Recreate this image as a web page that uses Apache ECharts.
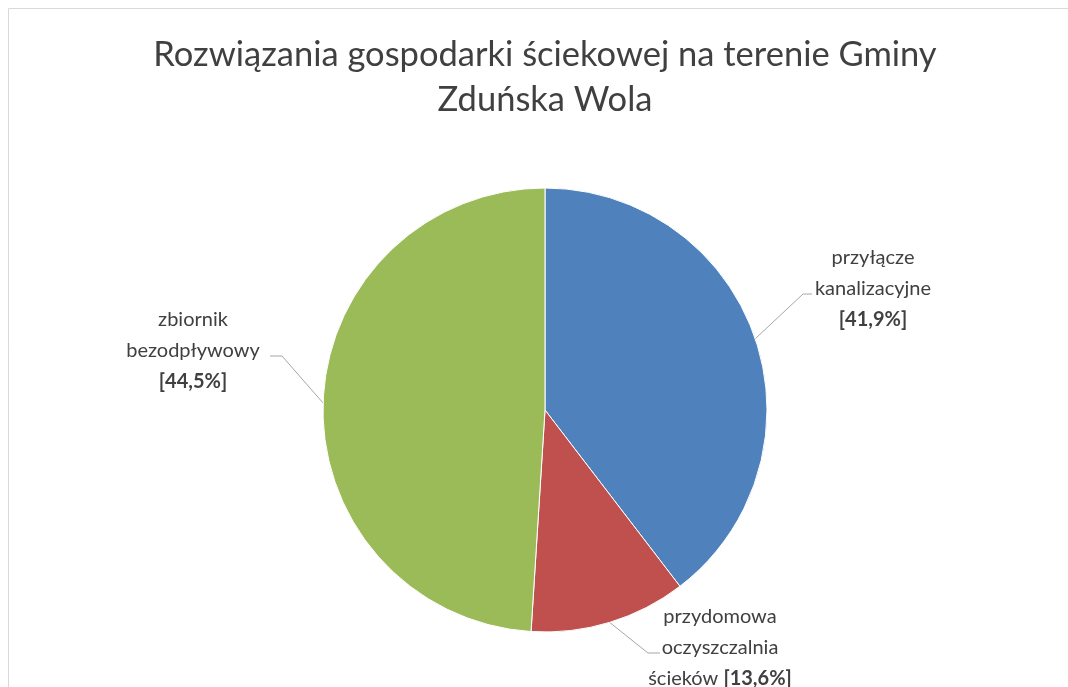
<!DOCTYPE html>
<html>
<head>
<meta charset="utf-8">
<script src="https://cdn.jsdelivr.net/npm/echarts@6/dist/echarts.min.js"></script>
<style>
  html, body { margin: 0; padding: 0; background: #fff; }
  #pie_solutions { width: 1068px; height: 687px; }
</style>
</head>
<body>
<div id="pie_solutions"></div>
<script>
// Data
var categories = ['przyłącze\nkanalizacyjne', 'przydomowa\noczyszczalnia\nścieków', 'zbiornik\nbezodpływowy'];
var sliceValues = [39.6, 11.4, 49.0];
var shownPercents = ['41,9%', '13,6%', '44,5%'];
var sliceColors = ['#4f81bd', '#c0504d', '#9bbb59'];

// Label spots: [center x, center y, leader end x, bend offset]
var labelSpots = [
    [873, 289, 812, -9],
    [720, 648, 660, -12],
    [193, 351, 270, 12]
];

var chartFont = 'Lato, "Open Sans", sans-serif';

var pie_solutions = echarts.init(document.getElementById('pie_solutions'));

pie_solutions.setOption({
    animation: false,
    color: sliceColors,

    // Title
    title: {
        text: 'Rozwiązania gospodarki ściekowej na terenie Gminy\nZduńska Wola',
        left: 545,
        top: 32,
        padding: 0,
        textAlign: 'center',
        textStyle: {
            fontFamily: chartFont,
            fontSize: 34.5,
            fontWeight: 'normal',
            lineHeight: 45,
            color: '#404040'
        }
    },

    // Chart frame
    graphic: [{
        type: 'rect',
        shape: { x: 8.5, y: 8.5, width: 1200, height: 1000 },
        style: { fill: 'none', stroke: '#d9d9d9', lineWidth: 1 },
        silent: true
    }],

    series: [{
        type: 'pie',
        radius: 222,
        center: [545, 410],
        startAngle: 90,
        clockwise: true,
        itemStyle: {
            borderColor: '#fff',
            borderWidth: 1
        },
        label: {
            show: true,
            position: 'outside',
            fontFamily: chartFont,
            fontSize: 20,
            lineHeight: 31,
            color: '#404040',
            align: 'center',
            formatter: function (p) {
                var lines = p.name.split('\n');
                var pct = '{b|[' + shownPercents[p.dataIndex] + ']}';
                if (p.dataIndex === 1) {
                    lines[lines.length - 1] += ' ' + pct;
                } else {
                    lines.push(pct);
                }
                return lines.join('\n');
            },
            rich: {
                b: {
                    fontFamily: chartFont,
                    fontSize: 20,
                    fontWeight: 'bold',
                    lineHeight: 31,
                    color: '#404040'
                }
            }
        },
        labelLine: {
            show: true,
            length: 20,
            length2: 10,
            lineStyle: { color: '#a6a6a6', width: 1 }
        },
        labelLayout: function (params) {
            var s = labelSpots[params.dataIndex];
            var start = params.labelLinePoints ? params.labelLinePoints[0] : null;
            var ly = s[1] + 5;
            var out = {
                x: s[0],
                y: s[1],
                align: 'center',
                verticalAlign: 'middle'
            };
            if (start) {
                out.labelLinePoints = [start, [s[2] + s[3], ly], [s[2], ly]];
            }
            return out;
        },
        data: (function () {
            var items = [];
            for (var i = 0; i < categories.length; i++) {
                items.push({ name: categories[i], value: sliceValues[i] });
            }
            return items;
        })()
    }]
});
</script>
</body>
</html>
